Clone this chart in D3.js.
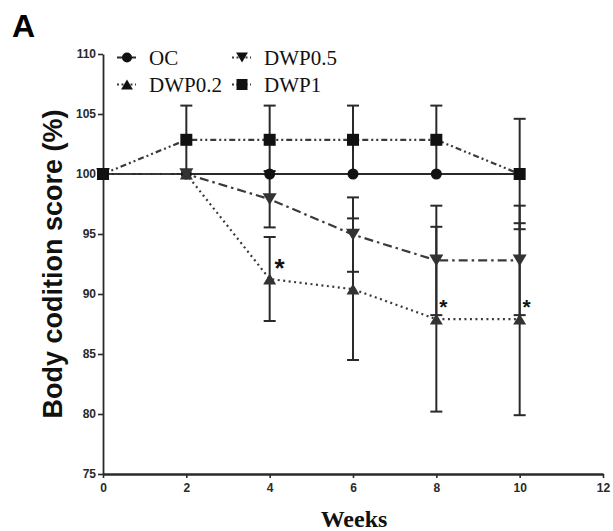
<!DOCTYPE html>
<html>
<head>
<meta charset="utf-8">
<script src="https://cdn.jsdelivr.net/npm/d3@7"></script>
<style>
  html, body { margin: 0; padding: 0; background: #fff; }
  svg { display: block; }
</style>
</head>
<body>
<svg id="chart" width="613" height="531"></svg>
<script>
// Body condition score (% of baseline) over the weeks of treatment
const weeks = [0, 2, 4, 6, 8, 10];

const ocMean     = [100, 100, 100, 100, 100, 100];
const ocErr      = [0, 0, 0, 0, 0, 0];
const dwp02Mean  = [100, 100, 91.25, 90.4, 87.9, 87.9];
const dwp02Err   = [0, 0, 3.5, 5.9, 7.7, 8.0];
const dwp05Mean  = [100, 100, 97.9, 94.95, 92.8, 92.8];
const dwp05Err   = [0, 0, 2.35, 3.1, 4.56, 4.56];
const dwp1Mean   = [100, 102.85, 102.85, 102.85, 102.85, 100];
const dwp1Err    = [0, 2.85, 2.85, 2.85, 2.85, 4.6];

const xTicks = [0, 2, 4, 6, 8, 10, 12];
const yTicks = [75, 80, 85, 90, 95, 100, 105, 110];

// weeks where DWP0.2 differs significantly from OC
const sigWeeks = [4, 8, 10];

const series = [
  { name: "OC",     mean: ocMean,    err: ocErr,    symbol: "circle",   dash: null },
  { name: "DWP0.2", mean: dwp02Mean, err: dwp02Err, symbol: "triUp",    dash: "2,3.5" },
  { name: "DWP0.5", mean: dwp05Mean, err: dwp05Err, symbol: "triDown",  dash: "9,4,2.5,4" },
  { name: "DWP1",   mean: dwp1Mean,  err: dwp1Err,  symbol: "square",   dash: "6,3,2,3,2,3" }
];

const svg = d3.select("#chart");
const ink = "#2a2a2a";

const x = d3.scaleLinear().domain([0, 12]).range([103, 603]);
const y = d3.scaleLinear().domain([75, 110]).range([474, 54]);

// marker shapes, centred on their bounding box
function symbolPath(kind, s) {
  const h = s / 2;
  switch (kind) {
    case "circle":  return `M${-h},0A${h},${h} 0 1,0 ${h},0A${h},${h} 0 1,0 ${-h},0Z`;
    case "square":  return `M${-h},${-h}H${h}V${h}H${-h}Z`;
    case "triUp":   return `M0,${-h * 0.9}L${h * 1.08},${h * 0.9}L${-h * 1.08},${h * 0.9}Z`;
    case "triDown": return `M0,${h * 0.9}L${h * 1.08},${-h * 0.9}L${-h * 1.08},${-h * 0.9}Z`;
  }
}

// axes
const yAxis = svg.append("g")
  .attr("transform", `translate(${x(0)},0)`)
  .call(d3.axisLeft(y).tickValues(yTicks).tickSize(5).tickSizeOuter(0).tickPadding(2));
const xAxis = svg.append("g")
  .attr("transform", `translate(0,${y(75)})`)
  .call(d3.axisBottom(x).tickValues(xTicks).tickSize(4).tickSizeOuter(0).tickPadding(5));

[yAxis, xAxis].forEach(g => {
  g.select(".domain").attr("stroke", ink);
  g.selectAll(".tick line").attr("stroke", ink).attr("stroke-width", 1.6);
  g.selectAll(".tick text")
    .attr("fill", ink)
    .style("font-family", "'Liberation Sans', Arial, sans-serif")
    .style("font-weight", "bold")
    .style("font-size", "12px");
});
yAxis.select(".domain").attr("stroke-width", 1.8);
xAxis.select(".domain").attr("stroke-width", 2.6);

// error bars
const capW = 12;
const eb = svg.append("g").attr("stroke", ink).attr("stroke-width", 2).attr("fill", "none");
series.forEach(s => {
  weeks.forEach((w, i) => {
    const e = s.err[i];
    if (!e) return;
    const cx = x(w), yHi = y(s.mean[i] + e), yLo = y(s.mean[i] - e);
    eb.append("line").attr("x1", cx).attr("x2", cx).attr("y1", yHi).attr("y2", yLo);
    eb.append("line").attr("x1", cx - capW / 2).attr("x2", cx + capW / 2).attr("y1", yHi).attr("y2", yHi);
    eb.append("line").attr("x1", cx - capW / 2).attr("x2", cx + capW / 2).attr("y1", yLo).attr("y2", yLo);
  });
});

// connecting lines
const line = d3.line().x(d => x(d[0])).y(d => y(d[1]));
series.forEach(s => {
  svg.append("path")
    .datum(weeks.map((w, i) => [w, s.mean[i]]))
    .attr("d", line)
    .attr("fill", "none")
    .attr("stroke", s.dash ? "#3a3a3a" : ink)
    .attr("stroke-width", s.dash ? 2.2 : 2)
    .attr("stroke-dasharray", s.dash);
});

// markers
const sizes = { circle: 11, square: 12, triUp: 12, triDown: 13 };
series.forEach(s => {
  svg.append("g").selectAll("path")
    .data(weeks.map((w, i) => [w, s.mean[i]]))
    .join("path")
    .attr("transform", d => `translate(${x(d[0])},${y(d[1])})`)
    .attr("d", symbolPath(s.symbol, sizes[s.symbol]))
    .attr("fill", s.symbol === "triDown" || s.symbol === "triUp" ? "#333" : "#111");
});

// significance asterisks next to DWP0.2 points
const dwp02 = series[1];
sigWeeks.forEach((w, k) => {
  const i = weeks.indexOf(w);
  const fs = k === 0 ? 26 : 21;
  const cx = x(w) + (k === 0 ? 10 : 7);
  const cy = y(dwp02.mean[i]) - 17;
  svg.append("text")
    .attr("x", cx).attr("y", cy + 0.57 * fs)
    .attr("text-anchor", "middle")
    .style("font-family", "'Liberation Sans', Arial, sans-serif")
    .style("font-weight", "bold")
    .style("font-size", fs + "px")
    .attr("fill", "#111")
    .text("*");
});

// legend
const legendPos = [
  { lx: 127, ly: 57.5 },
  { lx: 127, ly: 84.5 },
  { lx: 242, ly: 57.5 },
  { lx: 242, ly: 84.5 }
];
series.forEach((s, i) => {
  const p = legendPos[i];
  const g = svg.append("g");
  g.append("line")
    .attr("x1", p.lx - 10).attr("x2", p.lx + 9)
    .attr("y1", p.ly).attr("y2", p.ly)
    .attr("stroke", s.dash ? "#3a3a3a" : ink)
    .attr("stroke-width", 2)
    .attr("stroke-dasharray", s.dash ? "2,2.5" : null);
  g.append("path")
    .attr("transform", `translate(${p.lx},${p.ly})`)
    .attr("d", symbolPath(s.symbol, s.symbol === "circle" ? 10 : 11))
    .attr("fill", "#111");
  g.append("text")
    .attr("x", p.lx + 22).attr("y", p.ly + 7)
    .style("font-family", "'Liberation Serif', 'Times New Roman', serif")
    .style("font-size", "21px")
    .attr("fill", "#111")
    .text(s.name);
});

// axis titles
svg.append("text")
  .attr("transform", "translate(62,264) rotate(-90)")
  .attr("text-anchor", "middle")
  .style("font-family", "'Liberation Sans', Arial, sans-serif")
  .style("font-weight", "bold")
  .style("font-size", "27px")
  .attr("fill", "#111")
  .text("Body codition score (%)");

svg.append("text")
  .attr("x", 354).attr("y", 527)
  .attr("text-anchor", "middle")
  .style("font-family", "'Liberation Serif', 'Times New Roman', serif")
  .style("font-weight", "bold")
  .style("font-size", "24px")
  .attr("fill", "#111")
  .text("Weeks");

// panel letter
svg.append("text")
  .attr("x", 12).attr("y", 37)
  .style("font-family", "'Liberation Sans', Arial, sans-serif")
  .style("font-weight", "bold")
  .style("font-size", "32px")
  .attr("fill", "#000")
  .text("A");
</script>
</body>
</html>
